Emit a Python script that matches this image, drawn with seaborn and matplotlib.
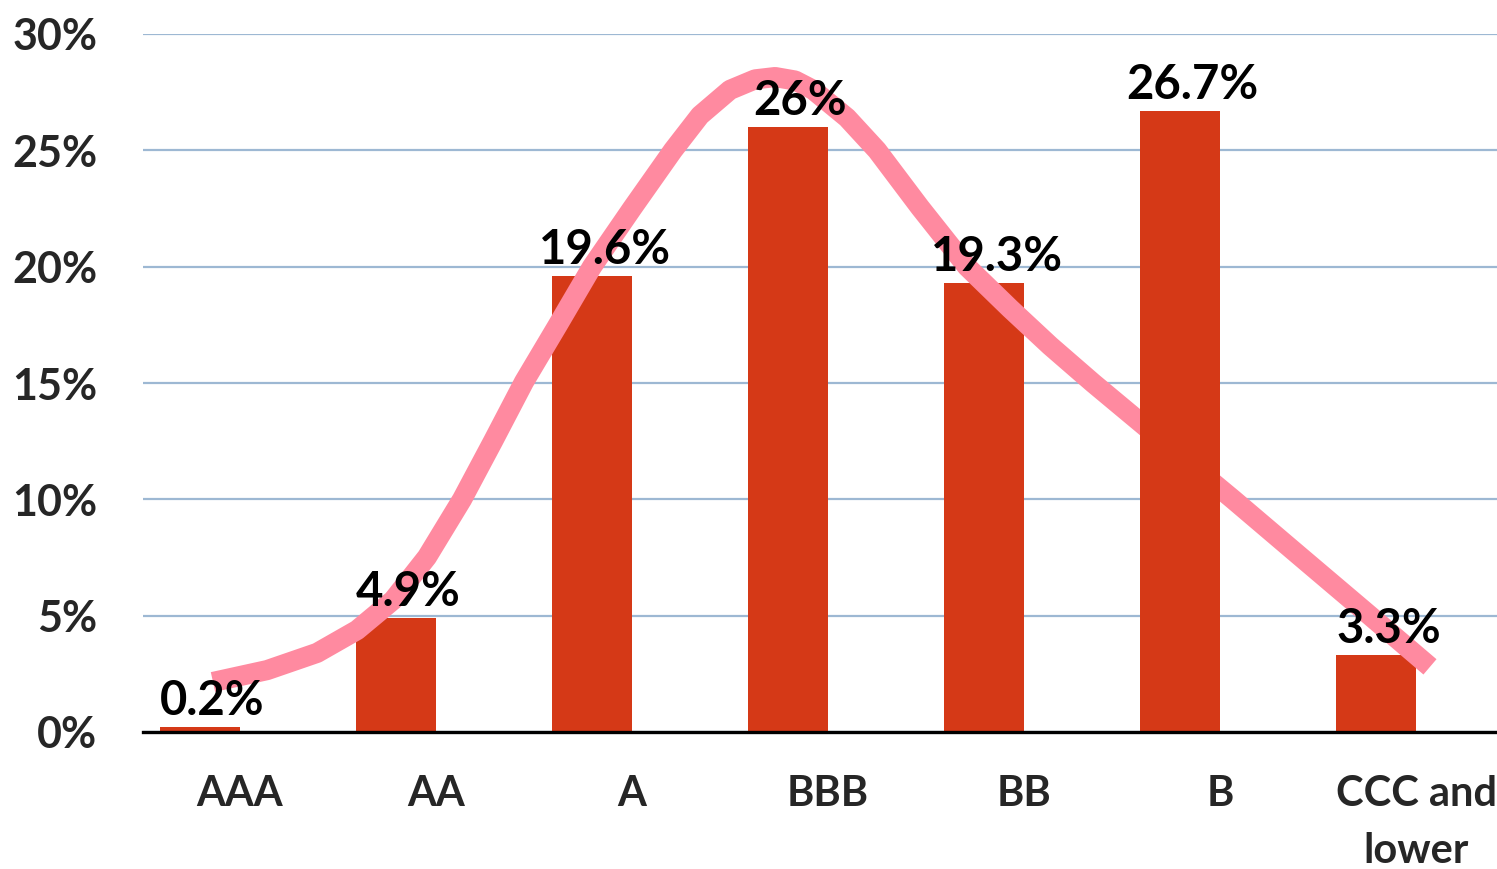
import matplotlib
matplotlib.use("Agg")
import matplotlib.pyplot as plt
import seaborn as sns
import pandas as pd

# ---- data ----
categories = ["AAA", "AA", "A", "BBB", "BB", "B", "CCC and\nlower"]
shares = [0.2, 4.9, 19.6, 26.0, 19.3, 26.7, 3.3]
share_labels = ["0.2%", "4.9%", "19.6%", "26%", "19.3%", "26.7%", "3.3%"]
# smooth trend curve (x in category units, y in %)
curve_x = [-0.138, 0.138, 0.393, 0.597, 0.781, 0.954, 1.133, 1.291, 1.449,
           1.622, 1.796, 2.0, 2.209, 2.347, 2.5, 2.628, 2.730, 2.832,
           2.924, 3.097, 3.25, 3.469, 3.709, 3.929, 4.133, 4.352, 4.694,
           5.066, 5.408, 5.765, 6.071]
curve_y = [2.15, 2.66, 3.40, 4.38, 5.67, 7.52, 10.0, 12.5, 15.05,
           17.5, 20.0, 22.5, 25.0, 26.5, 27.6, 28.05, 28.15, 28.0,
           27.6, 26.4, 25.0, 22.55, 20.0, 18.2, 16.6, 15.0, 12.6,
           10.0, 7.55, 5.0, 2.8]
yticks = [0, 5, 10, 15, 20, 25, 30]

sns.set_theme(style="white")
plt.rcParams["font.family"] = ["Lato", "DejaVu Sans"]
plt.rcParams["font.weight"] = "bold"

fig = plt.figure(figsize=(14.97, 8.69), dpi=100)
W, H = 1497, 869
left_px, right_px, top_px, bot_px = 143, 1497, 34, 732
ax = fig.add_axes([left_px / W, 1 - bot_px / H, (right_px - left_px) / W,
                   (bot_px - top_px) / H])

df = pd.DataFrame({
    "cat": categories * 2,
    "val": shares + [0.0] * len(shares),
    "series": ["share"] * len(shares) + ["blank"] * len(shares),
})
sns.barplot(data=df, x="cat", y="val", hue="series", order=categories,
            hue_order=["share", "blank"], palette=["#D53917", "#D53917"],
            width=0.816, dodge=True, ax=ax, legend=False, saturation=1,
            linewidth=0, errorbar=None, zorder=2)

# trend curve
sns.lineplot(x=curve_x, y=curve_y, sort=False, color="#FF8AA0", linewidth=14.5,
             ax=ax, zorder=3, solid_capstyle="butt", solid_joinstyle="round")

# in the reference the curve passes behind the "B" bar
for p in ax.patches:
    cx = p.get_x() + p.get_width() / 2
    if abs(cx - (5 - 0.204)) < 0.05 and p.get_height() > 0:
        p.set_zorder(3.5)

# data labels
for i, (v, lab) in enumerate(zip(shares, share_labels)):
    ax.annotate(lab, xy=(i - 0.204, v), xytext=(9, 3), textcoords="offset points",
                ha="center", va="bottom", fontsize=34, fontweight="bold",
                color="black", zorder=4)

ax.set_xlim(-0.495, 6.413)
ax.set_ylim(0, 30)
ax.set_yticks(yticks)
ax.set_yticklabels([f"{t}%" for t in yticks], fontsize=31, fontweight="bold")
ax.set_xticks(range(len(categories)))
ax.set_xticklabels(categories, fontsize=30, fontweight="bold", linespacing=1.6)
ax.tick_params(axis="y", length=0, pad=33)
ax.tick_params(axis="x", length=0, pad=31)
ax.set_xlabel("")
ax.set_ylabel("")
ax.yaxis.grid(True, color="#9DB8D3", linewidth=1.6, zorder=0)
ax.set_axisbelow(True)
for s in ["top", "right", "left"]:
    ax.spines[s].set_visible(False)
ax.spines["bottom"].set_color("black")
ax.spines["bottom"].set_linewidth(2.4)
ax.spines["bottom"].set_zorder(5)

fig.savefig("out.png", dpi=100)
